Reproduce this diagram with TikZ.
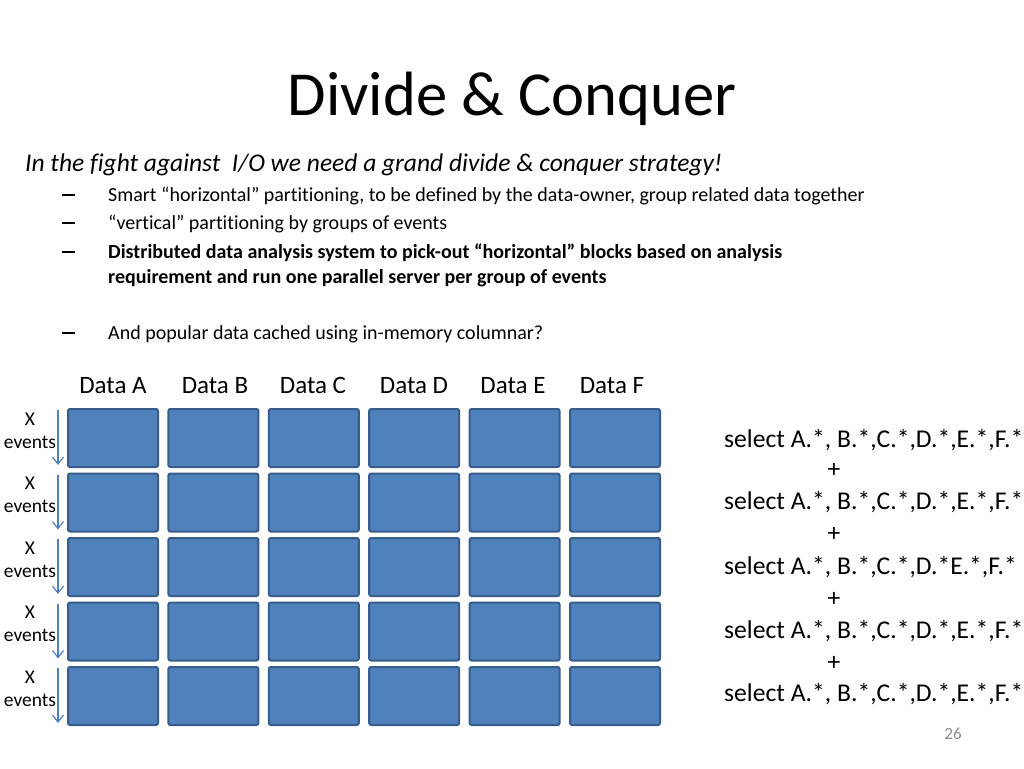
\documentclass[tikz,border=0pt]{standalone}
\usepackage{fontspec}
\setmainfont{Carlito}[Ligatures=NoCommon]
\usetikzlibrary{arrows.meta}
\definecolor{boxfill}{HTML}{4F81BD}
\definecolor{boxline}{HTML}{385D8A}
\definecolor{pagegrey}{HTML}{8C8C8C}
\begin{document}
\begin{tikzpicture}[x=1pt,y=-1pt,
  cell/.style={draw=boxline,fill=boxfill,line width=2pt,rounded corners=2pt},
  evarrow/.style={draw=boxfill,line width=1.2pt,-{Straight Barb[length=7pt,width=11pt,line width=1.2pt]}},
  fsize/.style={font=\fontsize{#1}{#1}\selectfont},
  txt/.style={inner sep=0pt,anchor=base west},
  ctxt/.style={inner sep=0pt,anchor=base},
]
\useasboundingbox (0,0) rectangle (1024,768);
\fill[white] (0,0) rectangle (1024,768);
% title
\node[ctxt,fsize=62.6] (title) at (512,115) {Divide \& Conquer};
% subtitle
\node[txt,font=\fontsize{25.5}{25.5}\selectfont\itshape] (sub) at (25,171) {In the fight against\ \ I/O we need a grand divide \& conquer strategy!};
% bullets (dashes)
\foreach \y/\n in {201/d1,229/d2,258/d3,339/d4}{
  \node[txt,fsize=20] (\n) at (62,\y) {\rule[5.5pt]{13pt}{1.4pt}};
}
\node[txt,font=\fontsize{20}{20}\selectfont] (b1) at (108,201) {Smart “horizontal” partitioning, to be defined by the data-owner, group related data together};
\node[txt,font=\fontsize{20}{20}\selectfont] (b2) at (108,229) {“vertical” partitioning by groups of events};
\node[txt,font=\fontsize{20}{20}\selectfont\bfseries] (b3) at (108,258) {Distributed data analysis system to pick-out “horizontal” blocks based on analysis};
\node[txt,font=\fontsize{20}{20}\selectfont\bfseries] (b3b) at (108,283) {requirement and run one parallel server per group of events};
\node[txt,font=\fontsize{20}{20}\selectfont] (b4) at (108,339) {And popular data cached using in-memory columnar?};
% grid
\foreach \L/\lx [count=\i from 0] in {A/113,B/215,C/313,D/414,E/513,F/612}{
  \pgfmathsetmacro{\xl}{68+100.4*\i}
  \node[ctxt,fsize=25] (lab\L) at (\lx,393) {Data \L};
  \foreach \r in {0,...,4}{
    \pgfmathsetmacro{\yt}{409+64.5*\r}
    \draw[cell] (\xl,\yt) rectangle ++(90,58);
  }
}
% event labels and arrows
\foreach \r in {0,...,4}{
  \pgfmathsetmacro{\yt}{409+64.5*\r}
  \coordinate (as\r) at (58,\yt+1);
  \coordinate (ae\r) at (58,\yt+56);
  \draw[evarrow] (as\r) -- (ae\r);
  \node[ctxt,fsize=19.5] (x\r) at (30,\yt+16) {X};
  \node[ctxt,fsize=19.5] (ev\r) at (30,\yt+39) {events};
}
% select lines
\foreach \y/\t [count=\k] in {439/{select A.*, B.*,C.*,D.*,E.*,F.*},501/{select A.*, B.*,C.*,D.*,E.*,F.*},566/{select A.*, B.*,C.*,D.*E.*,F.*},630/{select A.*, B.*,C.*,D.*,E.*,F.*},693/{select A.*, B.*,C.*,D.*,E.*,F.*}}{
  \node[txt,fsize=25.6] (s\k) at (724,\y+8) {\t};
}
\foreach \y [count=\k] in {469,533,598,662}{
  \node[ctxt,fsize=25.6] (p\k) at (834,\y+8) {+};
}
\node[ctxt,fsize=17,text=pagegrey] (pg) at (953,739) {26};
\end{tikzpicture}
\end{document}
